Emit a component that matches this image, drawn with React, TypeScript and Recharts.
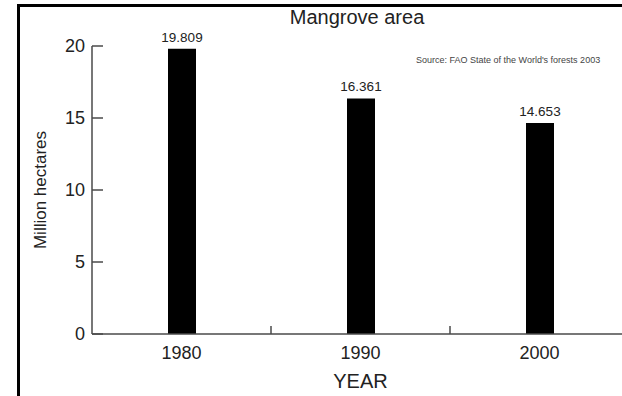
import { BarChart, Bar, XAxis, YAxis, LabelList } from 'recharts'

const years = ['1980', '1990', '2000']
const area = [19.809, 16.361, 14.653]
const yTicks = [0, 5, 10, 15, 20]

const FONT = '"Liberation Sans", Arial, sans-serif'
const AXIS = '#4a4a4a'
const TEXT = '#222222'

const data = years.map((year, i) => ({ year, area: area[i] }))

const X_MARGIN = 12
const Y_MARGIN = 7

// year label + small upward tick at the right edge of each band (except last)
const YearTick = (props: any) => {
  const { x, y, payload, index, visibleTicksCount } = props
  const axisY = y - X_MARGIN
  const edge = payload.coordinate + (payload.offset || 0)
  return (
    <g>
      <text
        x={x}
        y={y}
        dy="0.71em"
        textAnchor="middle"
        fontSize={18}
        fill={TEXT}
        fontFamily={FONT}
      >
        {payload.value}
      </text>
      {index < visibleTicksCount - 1 && (
        <line x1={edge} x2={edge} y1={axisY} y2={axisY - 8} stroke={AXIS} strokeWidth={1.5} />
      )}
    </g>
  )
}

// value label on the left, tick mark pointing into the plot
const ValueTick = (props: any) => {
  const { x, y, payload } = props
  const axisX = x + Y_MARGIN
  return (
    <g>
      <text
        x={x}
        y={y}
        dy="0.355em"
        textAnchor="end"
        fontSize={18}
        fill={TEXT}
        fontFamily={FONT}
      >
        {payload.value}
      </text>
      <line x1={axisX} x2={axisX + 11} y1={y} y2={y} stroke={AXIS} strokeWidth={1.5} />
    </g>
  )
}

export default function App() {
  return (
    <div
      style={{
        position: 'fixed',
        left: 0,
        top: 0,
        width: 622,
        height: 396,
        overflow: 'hidden',
        background: '#fff',
        fontFamily: FONT,
      }}
    >
      {/* frame: only left + top edges show in the crop */}
      <div
        style={{
          position: 'absolute',
          left: 17,
          top: 4,
          width: 700,
          height: 500,
          borderLeft: '3px solid #000',
          borderTop: '3px solid #000',
        }}
      />
      <div
        style={{
          position: 'absolute',
          left: 257,
          top: 6,
          width: 200,
          textAlign: 'center',
          fontSize: 20,
          color: TEXT,
        }}
      >
        Mangrove area
      </div>
      <div
        style={{
          position: 'absolute',
          left: 416,
          top: 55,
          fontSize: 9,
          color: '#444',
          whiteSpace: 'nowrap',
        }}
      >
        Source: FAO State of the World's forests 2003
      </div>

      <div style={{ position: 'absolute', left: 0, top: 0 }}>
        <BarChart
          width={640}
          height={396}
          data={data}
          margin={{ top: 46, right: 11, left: 0, bottom: 4 }}
        >
          <XAxis
            dataKey="year"
            height={58}
            stroke={AXIS}
            strokeWidth={1.5}
            tickLine={false}
            tickSize={0}
            tickMargin={X_MARGIN}
            tick={<YearTick />}
            label={{
              value: 'YEAR',
              position: 'insideBottom',
              offset: 4,
              fontSize: 20,
              fill: TEXT,
              fontFamily: FONT,
            }}
          />
          <YAxis
            width={92}
            domain={[0, 20]}
            ticks={yTicks}
            stroke={AXIS}
            strokeWidth={1.5}
            tickLine={false}
            tickSize={0}
            tickMargin={Y_MARGIN}
            tick={<ValueTick />}
            label={{
              value: 'Million hectares',
              angle: -90,
              position: 'center',
              dx: -6,
              fontSize: 17,
              fill: TEXT,
              fontFamily: FONT,
            }}
          />
          <Bar dataKey="area" fill="#000" barSize={28} isAnimationActive={false}>
            <LabelList
              dataKey="area"
              position="top"
              offset={7}
              formatter={(v: number) => v.toFixed(3)}
              style={{ fontSize: 13.5, fill: TEXT, fontFamily: FONT }}
            />
          </Bar>
        </BarChart>
      </div>
    </div>
  )
}
